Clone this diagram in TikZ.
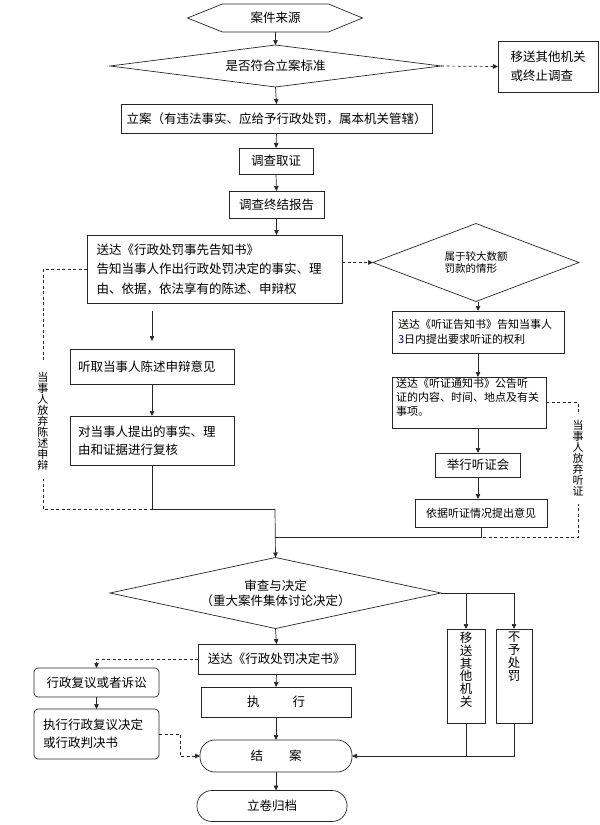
\documentclass[tikz,border=0pt]{standalone}
\usepackage{fontspec}
\setmainfont{Noto Sans CJK SC}
\usetikzlibrary{arrows.meta,shapes.geometric,calc}
\begin{document}
\begin{tikzpicture}[x=1pt,y=-1pt,
  every node/.style={inner sep=0pt, outer sep=0pt},
  ln/.style={line width=0.7pt, draw=black!85},
  box/.style={draw=black!85, line width=0.7pt, font=\fontsize{12.5}{18}\selectfont, align=center},
  smallbox/.style={box, font=\fontsize{11}{15}\selectfont},
  rbox/.style={box, rounded corners=4pt},
  stadium/.style={box, rounded corners=15pt},
  dia/.style={diamond, draw=black!85, line width=0.7pt, font=\fontsize{12.5}{15}\selectfont, align=center},
  arr/.style={ln, -{Triangle[length=5pt,width=4.5pt]}},
  darr/.style={arr, dash pattern=on 3pt off 2.5pt},
  dln/.style={ln, dash pattern=on 3pt off 2.5pt},
  vlab/.style={fill=white, font=\fontsize{11}{11}\selectfont, align=center, inner xsep=1pt}
]
\useasboundingbox (0,0) rectangle (600,825);

% top chain
\node[minimum width=106pt, minimum height=28pt, font=\fontsize{12.5}{15}\selectfont] (src) at (275.5,18) {案件来源};
\draw[ln] (src.north west) -- (src.north east) -- ($(src.east)+(34,0)$) -- (src.south east) -- (src.south west) -- ($(src.west)+(-35,0)$) -- cycle;
\node[dia, aspect=7.9, minimum width=331pt, minimum height=42pt] (q1) at (275.5,66) {是否符合立案标准};
\node[box, minimum width=100pt, minimum height=51pt, align=left, font=\fontsize{12.5}{19}\selectfont] (other) at (548,66.5) {移送其他机关\\或终止调查};
\node[box, minimum width=311pt, minimum height=29pt] (lian) at (276.5,118.5) {立案（有违法事实、应给予行政处罚，属本机关管辖）};
\node[box, minimum width=74pt, minimum height=26pt] (dc1) at (276,161) {调查取证};
\node[box, minimum width=95pt, minimum height=27pt] (dc2) at (276.5,204.5) {调查终结报告};
\node[box, minimum width=255pt, minimum height=68pt, text width=236pt, align=left, font=\fontsize{12.5}{19.5}\selectfont] (gz) at (214.5,269) {送达《行政处罚事先告知书》\\告知当事人作出行政处罚决定的事实、理\\由、依据，依法享有的陈述、申辩权};

% right hearing column
\node[dia, aspect=2.7, minimum width=206pt, minimum height=78pt, font=\fontsize{10.5}{12.5}\selectfont, align=left] (d2) at (476,262.5) {属于较大数额\\罚款的情形};
\node[smallbox, minimum width=172pt, minimum height=42pt, text width=160pt, align=left] (tz1) at (478,332) {送达《听证告知书》告知当事人\\\textcolor{blue!60!black}{3}日内提出要求听证的权利};
\node[smallbox, minimum width=154pt, minimum height=51pt, font=\fontsize{11}{14}\selectfont] (tz2) at (469,402.5) {\parbox[c][49pt][t]{146pt}{送达《听证通知书》公告听\\证的内容、时间、地点及有关\\事项。}};
\node[box, minimum width=85pt, minimum height=24pt] (jx) at (478,465) {举行听证会};
\node[smallbox, minimum width=132pt, minimum height=28pt] (yj) at (481,513) {依据听证情况提出意见};

% left statement column
\node[box, minimum width=164pt, minimum height=35pt, text width=148pt, align=left] (tq) at (152,366.5) {听取当事人陈述申辩意见};
\node[box, minimum width=164pt, minimum height=49pt, text width=148pt, align=left] (fh) at (152,440.5) {对当事人提出的事实、理\\由和证据进行复核};

% decision
\node[dia, aspect=4.66, minimum width=331pt, minimum height=71pt] (jd) at (275.5,593) {审查与决定\\（重大案件集体讨论决定）};
\node[box, minimum width=157pt, minimum height=30pt] (sd2) at (276.5,659) {送达《行政处罚决定书》};
\node[box, minimum width=150pt, minimum height=30pt] (zx) at (276,702) {执\hspace{33pt}行};
\node[stadium, minimum width=152pt, minimum height=32pt] (ja) at (276,756) {结\hspace{26pt}案};
\node[stadium, minimum width=150pt, minimum height=31pt] (gd) at (272,806) {立卷归档};
\node[rbox, minimum width=125pt, minimum height=29pt] (fy) at (96.5,682.5) {行政复议或者诉讼};
\node[rbox, minimum width=125pt, minimum height=50pt, text width=107pt, align=left] (zxfy) at (96.5,734) {执行行政复议决定\\或行政判决书};
\node[box, minimum width=38pt, minimum height=94pt, font=\fontsize{12.5}{12.8}\selectfont] (ys) at (466,676) {\parbox[c][94pt][t]{20pt}{\centering\vspace{3pt}移\\送\\其\\他\\机\\关}};
\node[box, minimum width=36pt, minimum height=94pt, font=\fontsize{12.5}{13}\selectfont] (bycf) at (514,676) {\parbox[c][94pt][t]{20pt}{\centering\vspace{3pt}不\\予\\处\\罚}};

% connectors top
\draw[arr] (src.south) -- (q1.north);
\draw[darr] (q1.east) -- (other.west);
\draw[arr] (q1.south) -- (lian.north);
\draw[arr] (lian.south) -- (dc1.north);
\draw[arr] (dc1.south) -- (dc2.north);
\draw[arr] (dc2.south) -- (dc2.south |- gz.north);
\draw[darr] (gz.east |- d2.west) -- (d2.west);
\draw[arr, shorten <=8pt, shorten >=8pt] (gz.south -| tq.north) -- (tq.north);
\draw[arr] (tq.south) -- (fh.north);

% right column connectors
\draw[arr] (d2.south -| tz1.north) -- (tz1.north);
\draw[arr] (tz1.south) -- (tz1.south |- tz2.north);
\draw[arr] (tz2.south -| jx.north) -- (jx.north);
\draw[arr] (jx.south) -- (jx.south |- yj.north);

% merging
\coordinate (m1) at (275,509);
\coordinate (m2) at (275,537);
\draw[ln] (fh.south) |- (m1);
\draw[arr] (m1) -- (jd.north);
\draw[ln] (yj.south) |- (m2);
\draw[dln] (gz.west) -- ++(-44,0) |- (fh.south |- m1);
\draw[dln] (tz2.east) -- ++(32,0) |- (yj.south |- m2);
\node[vlab, inner ysep=9pt] (lab1) at (43,421) {当\\事\\人\\放\\弃\\陈\\述\\申\\辩};
\node[vlab, inner ysep=8pt] (lab2) at (578,458.5) {当\\事\\人\\放\\弃\\听\\证};

% decision connectors
\draw[ln] (jd.east) -- (jd.east -| bycf.north);
\draw[arr] (jd.east -| ys.north) -- (ys.north);
\draw[arr] (jd.east -| bycf.north) -- (bycf.north);
\draw[ln] (ys.south) -- (ys.south |- ja.east);
\draw[arr] (bycf.south) |- (ja.east);
\draw[arr] (jd.south) -- (sd2.north);
\draw[arr] (sd2.south) -- (zx.north);
\draw[arr] (zx.south) -- (ja.north);
\draw[arr] (ja.south) -- (ja.south |- gd.north);
\draw[darr] (sd2.west) -| (fy.north);
\draw[arr] (fy.south) -- (zxfy.north);
\draw[darr] (zxfy.east) -- ++(21,0) |- (ja.west);
\end{tikzpicture}
\end{document}
